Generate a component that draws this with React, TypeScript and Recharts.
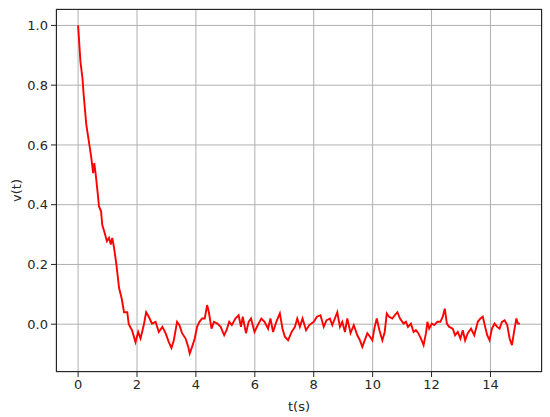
import { LineChart, Line, XAxis, YAxis, CartesianGrid } from 'recharts'

// samples: time (s) and velocity
const tSec = [
  0, 0.02, 0.08, 0.15, 0.19, 0.24, 0.28, 0.35, 0.4, 0.45, 0.51, 0.55, 0.6, 0.66, 0.71, 0.78, 0.82, 0.9, 0.98,
  1.05, 1.11, 1.16, 1.22, 1.3, 1.39, 1.48, 1.56, 1.67, 1.72, 1.83, 1.95,
  2.04, 2.12, 2.23, 2.31, 2.4, 2.51, 2.63, 2.74, 2.86, 2.97,
  3.08, 3.17, 3.25, 3.36, 3.44, 3.53, 3.65, 3.74, 3.79, 3.87, 3.96,
  4.04, 4.12, 4.21, 4.3, 4.38, 4.44, 4.53, 4.61, 4.73, 4.84, 4.96,
  5.04, 5.13, 5.22, 5.34, 5.45, 5.53, 5.59, 5.7, 5.79, 5.87, 5.99,
  6.1, 6.22, 6.33, 6.45, 6.53, 6.62, 6.73, 6.85, 6.94,
  7.02, 7.13, 7.25, 7.36, 7.44, 7.53, 7.62, 7.74, 7.85,
  8.0, 8.11, 8.23, 8.34, 8.43, 8.55, 8.63, 8.74, 8.8, 8.89, 8.97,
  9.06, 9.14, 9.25, 9.36, 9.48, 9.57, 9.65, 9.73, 9.82, 9.91, 9.99,
  10.07, 10.14, 10.23, 10.33, 10.41, 10.48, 10.56, 10.67, 10.75, 10.84, 10.93,
  11.05, 11.13, 11.2, 11.3, 11.39, 11.47, 11.55, 11.64, 11.73, 11.81, 11.86, 11.92,
  12.01, 12.09, 12.2, 12.3, 12.38, 12.45, 12.52, 12.6, 12.72, 12.8, 12.89, 12.98,
  13.06, 13.14, 13.23, 13.34, 13.45, 13.57, 13.66, 13.74, 13.82, 13.89, 13.97,
  14.05, 14.14, 14.23, 14.31, 14.39, 14.48, 14.57, 14.65, 14.73, 14.8, 14.88, 14.93, 15.0,
]

const vel = [
  1.0, 0.97, 0.878, 0.822, 0.767, 0.711, 0.667, 0.622, 0.589, 0.556, 0.506, 0.539, 0.5, 0.444, 0.394, 0.378, 0.333, 0.306, 0.278,
  0.289, 0.267, 0.289, 0.256, 0.2, 0.122, 0.086, 0.04, 0.04, 0.0, -0.02, -0.06,
  -0.026, -0.048, -0.003, 0.04, 0.025, 0.002, 0.008, -0.026, -0.009, -0.03,
  -0.06, -0.08, -0.054, 0.008, -0.003, -0.03, -0.048, -0.076, -0.098, -0.076, -0.048,
  -0.009, 0.008, 0.019, 0.019, 0.064, 0.04, -0.015, 0.008, 0.002, -0.009, -0.037,
  -0.02, 0.008, -0.003, 0.019, 0.03, -0.009, 0.025, -0.03, 0.008, 0.019, -0.026,
  -0.003, 0.019, 0.008, -0.015, 0.019, -0.026, 0.008, 0.036, -0.015,
  -0.042, -0.054, -0.026, -0.009, 0.019, -0.009, 0.019, -0.02, -0.003,
  0.008, 0.025, 0.03, -0.009, 0.013, 0.019, -0.003, 0.025, 0.04, -0.009, 0.008,
  -0.026, 0.019, -0.03, -0.003, -0.037, -0.054, -0.076, -0.054, -0.03, -0.042, -0.054,
  -0.009, 0.019, -0.02, -0.054, -0.026, 0.036, 0.025, 0.019, 0.03, 0.04, 0.019,
  0.002, 0.008, -0.009, 0.002, -0.026, -0.02, -0.03, -0.048, -0.07, -0.03, 0.008, -0.015,
  0.002, -0.003, 0.008, 0.008, 0.025, 0.052, 0.002, -0.009, -0.015, -0.037, -0.026, -0.048,
  -0.02, -0.054, -0.03, -0.015, -0.037, 0.008, 0.019, 0.025, -0.009, -0.037, -0.054,
  -0.015, 0.002, -0.009, -0.015, 0.008, 0.013, -0.003, -0.048, -0.07, -0.026, 0.019, 0.002, 0.002,
]

const xTicks = [0, 2, 4, 6, 8, 10, 12, 14]
const yTicks = [0, 0.2, 0.4, 0.6, 0.8, 1.0]

const data = tSec.map((t, i) => ({ t, v: vel[i] }))

const font = 'DejaVu Sans, sans-serif'
const tickStyle = { fontSize: 13, fill: '#262626', fontFamily: font }

export default function App() {
  return (
    <div style={{ position: 'absolute', left: 0, top: 0, width: 550, height: 417, background: '#fff' }}>
      <LineChart width={550} height={417} data={data} margin={{ top: 9, right: 8, left: 0, bottom: 0 }}>
        <CartesianGrid stroke="#b0b0b0" strokeWidth={1} />
        <XAxis
          dataKey="t"
          type="number"
          domain={[-0.75, 15.75]}
          ticks={xTicks}
          allowDataOverflow
          height={45}
          axisLine={false}
          tickSize={5}
          tickMargin={3}
          tickLine={{ stroke: '#262626' }}
          tick={tickStyle}
          label={{ value: 't(s)', position: 'insideBottom', offset: 6, style: { fontSize: 13, fill: '#262626', fontFamily: font } }}
        />
        <YAxis
          type="number"
          domain={[-0.16, 1.055]}
          ticks={yTicks}
          allowDataOverflow
          width={56}
          axisLine={false}
          tickSize={5}
          tickMargin={3}
          tickLine={{ stroke: '#262626' }}
          tick={tickStyle}
          tickFormatter={(v: number) => v.toFixed(1)}
          label={({ viewBox }: any) => {
            const cy = viewBox.y + viewBox.height / 2
            return (
              <text
                x={16}
                y={cy}
                transform={`rotate(-90, 16, ${cy})`}
                textAnchor="middle"
                dominantBaseline="central"
                fontSize={13}
                fill="#262626"
                fontFamily={font}
              >
                v(t)
              </text>
            )
          }}
        />
        <Line
          dataKey="v"
          type="linear"
          stroke="#ff0000"
          strokeWidth={1.9}
          dot={false}
          isAnimationActive={false}
        />
      </LineChart>
      <div
        style={{
          position: 'absolute',
          left: 55.5,
          top: 8.5,
          width: 486,
          height: 363,
          border: '1px solid #262626',
          boxSizing: 'border-box',
          pointerEvents: 'none',
        }}
      />
    </div>
  )
}
